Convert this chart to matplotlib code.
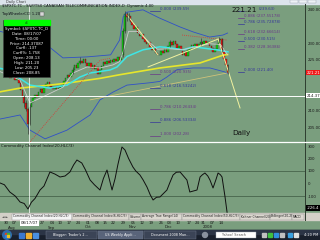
import matplotlib
matplotlib.use("Agg")
import matplotlib.pyplot as plt
from matplotlib.patches import Rectangle, Circle

W, H = 320, 240
BG = "#7a9e7e"

# daily closes, 30 Jul 2007 .. 17 Jan 2008
closes = [
    220.2, 219.6, 220.8, 219.9, 219.0, 219.4, 218.0, 216.0, 214.0, 212.1, 210.5, 206.0, 211.0, 212.5,
    213.8, 214.6, 213.9, 215.4, 216.2, 215.1, 216.8,
    217.9, 218.3, 217.2, 216.8, 216.4, 216.8, 216.2, 216.7, 216.9, 217.6, 218.8,
    219.7, 220.6, 219.9, 221.0, 222.1,
    223.4, 222.6, 224.2, 224.8,
    224.2, 225.3, 224.0, 223.2, 224.1, 222.6, 223.4, 222.4, 223.0,
    220.8, 221.9,
    223.2, 224.3, 223.8, 224.6, 224.1, 225.0, 224.4, 225.3, 224.7,
    225.8, 224.9, 226.5, 233.5, 238.6, 237.8,
    238.2, 236.2, 235.4, 234.1, 234.8, 233.0, 232.1, 232.8, 231.2, 230.4, 229.6, 230.3, 228.8, 228.0, 228.6, 227.2, 226.6,
    226.4, 227.6, 227.0, 228.3, 227.5, 229.1, 230.2,
    229.4, 230.6, 229.8, 228.6, 229.2, 227.8,
    226.6, 227.3, 226.3, 227.9, 228.6,
    229.3, 228.5, 229.6, 228.9, 229.8, 230.4,
    229.7, 230.6, 229.9, 230.3, 229.1,
    228.4, 227.3, 228.1, 229.6, 230.9, 231.3,
    228.0, 225.3, 223.6, 221.21,
]
first_open = 220.8

# a few visible wicks
wick_idx = [9, 10, 11, 12, 36, 40, 64, 65, 66, 67, 90, 107, 117, 119, 122]
wick_low = [211.0, 209.8, 203.0, 205.5, 220.8, 223.8, 226.0, 233.0, 236.5, 236.8, 228.8, 229.4, 230.0, 227.5, 220.8]
wick_high = [214.5, 213.0, 210.8, 211.8, 223.0, 225.8, 234.5, 239.6, 239.2, 239.0, 231.0, 231.4, 231.8, 231.5, 223.9]

# overlays (bar index, price)
ma_long_x = [-4.4, 6.7, 23.3, 32.8, 51.1, 62.2, 84.4, 106.7, 119.4, 122]
ma_long_y = [215.5, 216.6, 217.5, 218.1, 219.5, 220.6, 222.6, 224.1, 226.4, 226.6]

ma_mid_x = [-4.4, -0.6, 12.2, 23.3, 32.8, 40.0, 45.6, 56.7, 60.6, 66.1, 75, 84.4, 90.0, 97.2, 102.8, 116.1, 122.2]
ma_mid_y = [222.5, 222.0, 217.5, 216.6, 217.5, 219.9, 221.1, 222.0, 222.9, 226.0, 228.0, 228.9, 228.6, 228.0, 228.9, 228.0, 227.4]

ma_short_x = [-4.4, 6.7, 12.2, 19.4, 30.6, 36.1, 43.9, 51.1, 58.3, 62, 64, 67, 72, 78, 83, 90, 97, 105, 112, 118, 122]
ma_short_y = [221.5, 219.0, 212.2, 214.0, 216.9, 221.1, 222.9, 222.6, 223.5, 224.5, 227.5, 233.5, 233.5, 230.5, 228.2,
              228.3, 228.0, 229.0, 229.8, 229.6, 226.5]

bb_up_x = [-4.4, 10, 21.7, 30.5, 44, 57, 62, 64, 66, 75, 84, 95.6, 103, 112, 119.4, 122]
bb_up_y = [233.5, 231.5, 229.4, 225.6, 225.9, 226.5, 230.9, 237.8, 239.2, 239.9, 237.5, 234.8, 233.3, 231.8, 232.4, 233.0]

bb_lo_x = [-4.4, 6.7, 12.2, 20.6, 32.8, 45.6, 51.1, 58.3, 66.1, 78.9, 84.4, 88, 93.9, 102.8, 112.2, 120.6, 122]
bb_lo_y = [207.4, 208.6, 204.1, 201.5, 204.1, 208.6, 213.1, 215.4, 217.5, 218.2, 218.6, 219.8, 222.1, 222.6, 222.6, 221.4, 221.0]

sar1_x = [12.2, 51.1, 57.0]
sar1_y = [200.6, 224.9, 225.5]
sar2_x = [96.7, 121.7]
sar2_y = [232.4, 230.9]

tan_x = [45.6, 121.7]
tan_y = [213.1, 221.1]
down1_x = [66.1, 83.3]
down1_y = [238.4, 226.5]
up_x = [77.8, 116.7]
up_y = [222.9, 231.2]
down2_x = [116.7, 128.9]
down2_y = [231.2, 210.7]

# the 1.000 tag of the right set sits under the big last-price text, only its value shows
fib_right_levels = [239.63, 237.55, 235.73, 232.67, 230.515, 228.36, 221.40]
fib_right_labels = ["(239.63)", "0.886 (237.55178)", "0.786 (235.72878)", "0.618 (232.66614)",
                    "0.500 (230.515)", "0.382 (228.36386)", "0.000 (221.40)"]
fib_left_levels = [239.59, 220.935, 216.53, 210.26, 206.53, 202.28]
fib_left_labels = ["0.000 (239.59)", "0.500 (220.935)", "0.618 (216.53242)", "0.786 (210.26434)",
                   "0.886 (206.53334)", "1.000 (202.28)"]
FIB_COLS = ["#36369a", "#6a3888"]

# CCI(20) sampled off the lower panel
cci_x = [-4.4, -2, 1, 4, 6.7, 9, 11.1, 13, 15, 17.8, 20, 23.3, 26, 28.9, 31.7, 34.4, 36.5, 38.3, 41, 43,
         45.6, 48, 51.1, 53, 55, 57.8, 59.5, 61, 63.3, 65, 67, 69.4, 71, 73.3, 75, 77.2, 79, 80.6, 82.5, 84.4,
         86, 88.3, 90, 91.7, 93.5, 95.6, 97.5, 99.4, 101, 103, 105, 106.7, 108, 109.4, 111, 112.2, 113.9,
         115.5, 116.7, 118, 118.9, 120.5, 121.7]
cci_y = [4, -10, -68, -100, -148, -160, -204, -150, -120, -52, -20, 92, 76, 52, 60, 92, 150, 188, 164, 110,
         28, -10, -52, 40, 108, -52, 40, 148, 292, 268, 200, 132, 100, 68, 30, -28, -90, -132, -110, -108,
         -85, -52, 10, 68, 90, 92, 60, 28, -68, -60, -52, 52, 70, 84, 60, 28, -36,
         30, 84, 70, 52, -100, -230]

price_ticks = [240, 230, 225, 210, 205]
cci_ticks = [300, 200, 100, 0, -100]

day_pos = [-1.1, 3.3, 18.9, 24.4, 28.9, 33.9, 38.9, 44.4, 49.4, 53.9, 58.3, 63.9, 69.4, 74.4, 79.4,
           85.0, 89.4, 94.4, 100.6, 105.0, 108.3, 113.3, 118.3]
day_labels = ["30", "07", "27", "04", "10", "17", "24", "01", "08", "15", "22", "29", "05", "12", "19",
              "26", "03", "10", "17", "24", "31", "07", "14"]
month_pos = [2.2, 24.4, 44.4, 69.4, 88.9, 111.0]
month_labels = ["Aug", "Sep", "Oct", "Nov", "Dec", "2008"]

cursor_idx = 11.8
cursor_price = 214.37
cci_last = "-226.4"

info_lines = ["Symbol: $SPXTC.TC_D", "Date: 08/17/07", "Time: 00:00", "Price: 214.37087", "Curfl: .137",
              "Curfl%: 1.758", "Open: 208.13", "High: 211.20", "Low: 205.23", "Close: 208.85"]

tabs = [("Commodity Channel Index(20,HLC/3)", 12, 72, True),
        ("Commodity Channel Index(6,HLC/3)", 72, 129, False),
        ("Volume", 129, 141, False),
        ("Average True Range(14)", 141, 182, False),
        ("Commodity Channel Index(50,HLC/3)", 182, 240, False),
        ("Keltner Channel(20)", 240, 270, False),
        ("Bollinger(20,2)", 270, 292, False),
        ("MACD", 292, 304, False)]


def frame(x0, y0, x1, y1):
    return [x0 / W, 1 - y1 / H, (x1 - x0) / W, (y1 - y0) / H]


fig = plt.figure(figsize=(W / 100, H / 100), dpi=100)
fig.patch.set_facecolor(BG)

# window chrome, pixel coordinates
ui = fig.add_axes([0, 0, 1, 1], zorder=0)
ui.set_xlim(0, W)
ui.set_ylim(H, 0)
ui.axis("off")

ui.add_patch(Rectangle((0, 0), W, 3.5, color="#dce4ec"))
ui.text(6, 1.8, "Daily Chart", fontsize=2.5, va="center", color="#333333")
for bx in (290, 299, 308):
    ui.add_patch(Rectangle((bx, 0.3), 8, 3, facecolor="#eef2f6", edgecolor="#9aa4b0", lw=0.3))

ui.plot([304.5, 304.5], [3.5, 220], color="#2e3e30", lw=0.7)
ui.plot([0, W], [142, 142], color="white", lw=0.9)

# indicator tab strip
ui.add_patch(Rectangle((0, 213), W, 7, color="#d4d0c8"))
ui.text(2, 216.5, "\u25c4 \u25ba", fontsize=2.3, va="center", color="#333333")
for lab, x0, x1, sel in tabs:
    ui.add_patch(Rectangle((x0, 213.5), x1 - x0, 6, facecolor="#f4f4f4" if sel else "#dcd8d0",
                           edgecolor="#8a8a8a", lw=0.3))
    ui.text(x0 + 1, 216.5, lab, fontsize=2.2, va="center", color="#202020", clip_on=True)

# taskbar
ui.add_patch(Rectangle((0, 230), W, 10, color="#19202c"))
ui.add_patch(Rectangle((0, 230), W, 4, color="#2b3445"))
ui.add_patch(Circle((7, 235), 4.3, color="#2d6cb0"))
for dx, dy, c in ((-1.2, -1.2, "#e04020"), (1.2, -1.2, "#40b030"), (-1.2, 1.2, "#3080e0"), (1.2, 1.2, "#f0c020")):
    ui.add_patch(Rectangle((7 + dx - 1, 235 + dy - 1), 2, 2, color=c))
for qx, c in ((19, "#3a78d0"), (26, "#f0b030"), (33, "#4a90e0")):
    ui.add_patch(Rectangle((qx, 232.5), 5, 5, color=c))
for x0, x1, lab, c in ((46, 97, "Blogger: Trader's 2...", "#3b4456"),
                       (98, 143, "US Weekly Appli...", "#59647a"),
                       (144, 196, "Document 2008 Man...", "#3b4456")):
    ui.add_patch(Rectangle((x0, 231), x1 - x0, 8, facecolor=c, edgecolor="#70798c", lw=0.3))
    ui.text(x0 + 7, 235, lab, fontsize=2.4, va="center", color="white", clip_on=True)
ui.add_patch(Circle((205, 235), 2.5, color="#8a929e"))
ui.add_patch(Rectangle((216, 232), 40, 6, facecolor="white", edgecolor="#9aa4b0", lw=0.3))
ui.text(222, 235, "Yahoo! Search", fontsize=2.4, va="center", color="#555555")
for tx, c in ((262, "#c0c0c0"), (268, "#40c040"), (274, "#3090e0"), (280, "#c0c0c0"), (288, "#3aa0e0"), (294, "#e0e0e0")):
    ui.add_patch(Rectangle((tx, 233), 4, 4, color=c))
ui.text(311, 235, "4:20 PM", fontsize=2.5, va="center", ha="center", color="white")

# price panel
price = fig.add_axes(frame(0, 3.5, 304.5, 141.5), zorder=2)
price.set_facecolor("none")
price.set_xlim(-4.444, 164.72)
price.set_ylim(200.71, 241.79)
for s in price.spines.values():
    s.set_visible(False)
price.set_xticks([])
price.yaxis.tick_right()
price.set_yticks(price_ticks)
price.set_yticklabels([f"{t:.2f}" for t in price_ticks], fontsize=2.8, color="#1a1a1a")
price.tick_params(axis="y", length=0, pad=2)

price.plot(bb_up_x, bb_up_y, color="#3050c8", lw=0.6)
price.plot(bb_lo_x, bb_lo_y, color="#3050c8", lw=0.6)
price.plot(tan_x, tan_y, color="#cfc27a", lw=0.6)
price.plot(ma_long_x, ma_long_y, color="#e6e62c", lw=1.2)
price.plot(ma_mid_x, ma_mid_y, color="#3ee6e6", lw=1.1)
price.plot(ma_short_x, ma_short_y, color="#cccccc", lw=0.6)
price.plot(sar1_x, sar1_y, color="#e03030", lw=0.6, ls=(0, (1, 1.5)))
price.plot(sar2_x, sar2_y, color="#e03030", lw=0.6, ls=(0, (1, 1.5)))
price.plot(down1_x, down1_y, color="#f2f2a0", lw=0.7)
price.plot(up_x, up_y, color="#f2f2a0", lw=0.7)
price.plot(down2_x, down2_y, color="#f2f2a0", lw=0.7)

price.axhline(cursor_price, color="white", lw=0.7)
price.axvline(cursor_idx, color="white", lw=0.5)

idx = list(range(len(closes)))
opens = [first_open] + closes[:-1]
bodies = [c - o for o, c in zip(opens, closes)]
colors = ["#10d010" if c >= o else "#f01010" for o, c in zip(opens, closes)]
price.vlines(wick_idx, wick_low, wick_high, color="#2a2a2a", lw=0.4)
price.bar(idx, bodies, bottom=opens, width=0.85, color=colors, edgecolor="#1c331c", linewidth=0.25)

for i, (lv, lb) in enumerate(zip(fib_right_levels, fib_right_labels)):
    col = FIB_COLS[i % 2]
    price.plot([128.0, 131.0], [lv, lv], color=col, lw=0.5)
    lx = 139.5 if i == 0 else 131.3
    price.text(lx, lv, lb, color=col, fontsize=2.8, va="bottom", ha="left")
for i, (lv, lb) in enumerate(zip(fib_left_levels, fib_left_labels)):
    col = FIB_COLS[i % 2]
    price.plot([79.0, 84.4], [lv, lv], color=col, lw=0.5)
    price.text(84.6, lv, lb, color=col, fontsize=2.8, va="bottom", ha="left")

price.text(124.0, 239.9, f"{closes[-1]:.2f}", fontsize=5.2, va="center", ha="left", color="#111111")
price.text(124.6, 203.2, "Daily", fontsize=5.2, va="center", ha="left", color="#111111")

yt = price.get_yaxis_transform()
price.text(1.006, closes[-1], f"{closes[-1]:.2f}", transform=yt, fontsize=2.8, va="center", ha="left",
           color="white", bbox=dict(facecolor="#f01818", edgecolor="none", pad=0.5))
price.text(1.006, cursor_price, f"{cursor_price:.2f}", transform=yt, fontsize=2.8, va="center", ha="left",
           color="#1a1a1a", bbox=dict(facecolor="white", edgecolor="none", pad=0.5))

# CCI panel
cci = fig.add_axes(frame(0, 142.5, 304.5, 213), zorder=2)
cci.set_facecolor("none")
cci.set_xlim(-4.444, 164.72)
cci.set_ylim(-236, 328)
for s in cci.spines.values():
    s.set_visible(False)
cci.set_xticks([])
cci.yaxis.tick_right()
cci.set_yticks(cci_ticks)
cci.set_yticklabels([str(t) for t in cci_ticks], fontsize=2.8, color="#1a1a1a")
cci.tick_params(axis="y", length=0, pad=2.5)
cci.axhline(100, color="#4e6c52", lw=0.7)
cci.axhline(-100, color="#4e6c52", lw=0.7)
cci.axvline(cursor_idx, color="white", lw=0.5)
cci.plot(cci_x, cci_y, color="#101010", lw=0.7)
cci.text(0.004, 0.975, "Commodity Channel Index(20,HLC/3)", transform=cci.transAxes, fontsize=2.8,
         va="top", ha="left", color="#111111")
cci.text(1.006, -196, cci_last, transform=cci.get_yaxis_transform(), fontsize=2.8, va="center", ha="left",
         color="white", bbox=dict(facecolor="black", edgecolor="none", pad=0.5))

# date row
dates = fig.add_axes(frame(0, 220, 304.5, 230), zorder=2)
dates.set_xlim(-4.444, 164.72)
dates.set_ylim(0, 1)
dates.axis("off")
for p, lab in zip(day_pos, day_labels):
    dates.text(p, 0.72, lab, fontsize=2.8, ha="center", va="center", color="#1a1a1a")
for p, lab in zip(month_pos, month_labels):
    dates.text(p, 0.25, lab, fontsize=2.8, ha="center", va="center", color="#1a1a1a")
dates.text(cursor_idx, 0.72, "08/17/07", fontsize=2.8, ha="center", va="center", color="#1a1a1a",
           bbox=dict(facecolor="white", edgecolor="none", pad=0.5))

# header and data window on top
top = fig.add_axes([0, 0, 1, 1], zorder=5)
top.set_xlim(0, W)
top.set_ylim(H, 0)
top.axis("off")
top.text(2, 5.8, "$SPXTC.TC - S&P/TSX CANADIAN TELECOMMUNICATION INDEX,D  Dynamic 4.00",
         fontsize=2.7, va="center", color="#10101a")
top.text(2, 14, "TopWheelerCCI 1.20", fontsize=2.7, va="center", color="#10101a")
top.add_patch(Rectangle((40, 12), 4, 4, facecolor="#d8d8d8", edgecolor="#505050", lw=0.3))

top.add_patch(Rectangle((3, 19.5), 47, 57, facecolor="black", edgecolor="#404040", lw=0.4))
top.add_patch(Rectangle((3.5, 20), 46, 5, color="#00ff00"))
top.text(26.5, 22.5, "x4", fontsize=2.2, ha="center", va="center", color="#104010")
for k, line in enumerate(info_lines):
    top.text(26.5, 29 + 4.85 * k, line, fontsize=2.8, ha="center", va="center", color="white")

fig.savefig("out.png", dpi=100, facecolor=BG)
